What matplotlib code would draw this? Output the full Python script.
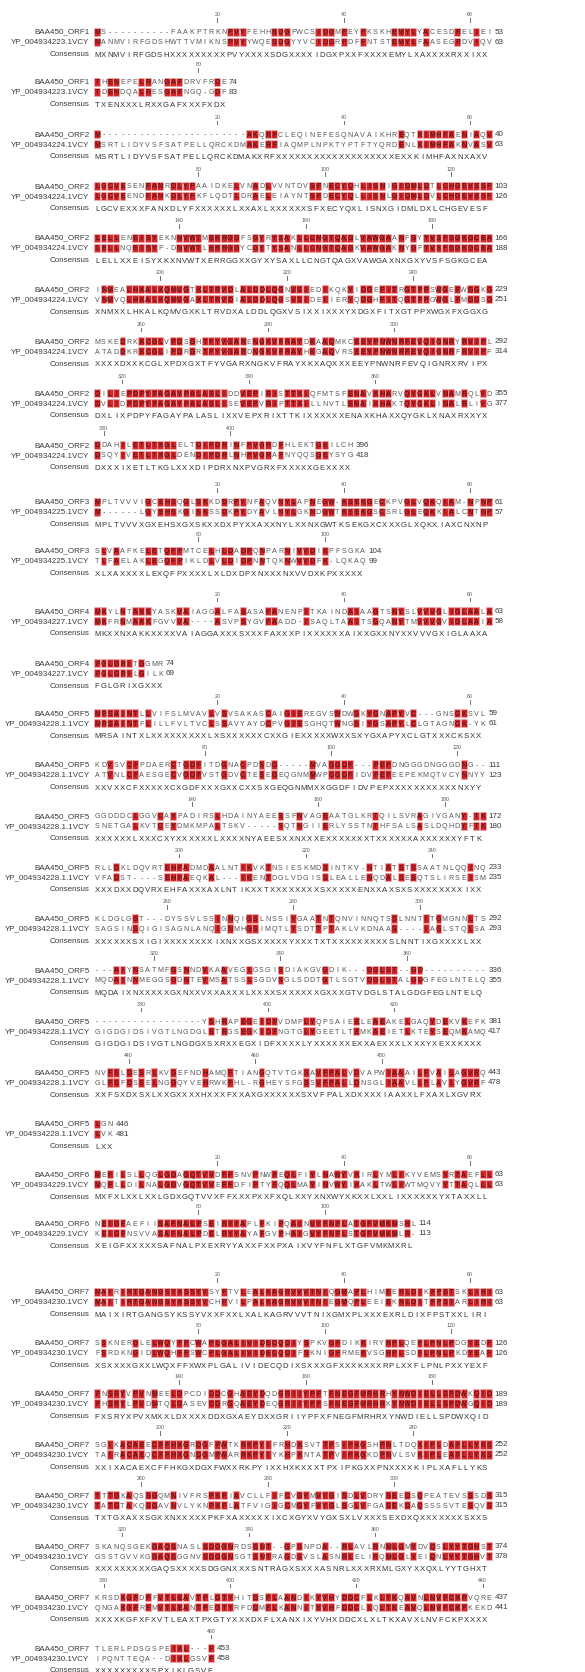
import matplotlib
matplotlib.use("Agg")
import matplotlib.pyplot as plt
from matplotlib.patches import Rectangle

plt.rcParams['font.family'] = ['Liberation Sans', 'DejaVu Sans']

# ---- alignment data, one string per ORF, rows as printed ----
orf_names = ["BAA450_ORF1", "BAA450_ORF2", "BAA450_ORF3", "BAA450_ORF4",
             "BAA450_ORF5", "BAA450_ORF6", "BAA450_ORF7"]
ref_names = ["YP_004934223.1VCY", "YP_004934224.1VCY", "YP_004934225.1VCY",
             "YP_004934227.1VCY", "YP_004934228.1.1VCY", "YP_004934229.1VCY",
             "YP_004934230.1VCY"]

orf1 = ("MS----------FAAKPTRKNPVYFEHHSDGFWCSIDGMPEYFKSKHEMYLYACESDRELIEI"
        "THENEPELRANGAFDRVFRDE")
ref1 = ("MANMVIRFGDSHWTTVMIKNSPVYYWQESDGYYVCIDGRPDFFNTSTEMYLFAASEGRDVIQV"
        "TDENDQALRESGAFNGQ-GDF")

orf2 = ("M" + "-" * 23 + "AKQRFCLEQINEFESQNAVAIKHREQTKIMHFAENIAQV"
        "LGCVESENFANRDLYFAAIDKELVNADLVVNTDVSFNECYQHLISNIGIDMLDTLCHGEVESF"
        "LELLENEISYEKNNVWTMERRGGFSGYRYSAKLLCNGTQAGLVAWGAANFGYYVSFSGKGCEA"
        "INMEALHKALKQMVGTKLTRVDLALDDLQGNVSIEDIKQKYIDGEFITRGTPPSWGEFWGGKG"
        "MSKEDRKKCGLVPDSGHTFYVGARENGKVFRAYDKAAQMKCEEYPNWNRFEVQIGNRYRVIPL"
        "DILIEPDPYFAGAYPALASLIDDVEPIRISTTKIQFMTSFENAVKHARVQYGKLVNAMRQLYD"
        "DDAHILETLTKGLELTDIPDRINFPVGRDFHLEKTGEILCH")
ref2 = ("MSRTLIDYVSFSATPELLQRCKDMAKERFIAQMPLNPKTYPTFTYQRDENLKIMHFAKNVASV"
        "LGCVEENDFANKDLYFKFLQDTLDRAELEIAYNTSFDECYQLLISNLGIDMLDVLCHGEVESF"
        "LELLNQEISYP-DNVWTLERRGGYCGYTYSANLLCNGTQAGKVAWGAKNYGFYVSFSGKGCEA"
        "VNMVQLHKALKQMVGAKLTRVDIALDDLQGSVSIDEIIERYQDGHFITQGTPPGWGLFMGGSG"
        "ATADDKRKCGLIPDRGRTFYVGARDNGKVFRAYHKGAQVRSEEYPNWNRFEVQIGNRFRVIPF"
        "DVLIDPDPYFAGAYPALASLISEVEPVRIPTTKILLNVTLENAIKHAKTQYGKLINALRLIYG"
        "DSQYIVETLTKGLDENDIPDRLNHPVGRAFNYQQSGEYSYG")

orf3 = ("MPLTVVVIGCEHSQGLSKKDDRPYNFAQVNYLAPNEGW-KSEKGECKPVGLVQKQIAM-NPNP"
        "SLVAAFKELETQFPMTCELHLDADPQNPARNIVVDIKPFSGKA")
ref3 = ("M------LGYEHSKGISKSSDKPYDYAVLNYLGKNDGWTKSEKGSCSRLGLEQKKIALCNTNP"
        "TLFAELAKLEGQFPIKLDLVLDIDPNNTQKNWVVDFK-LQKAQ")

orf4 = ("MKYLNTAKKYASKVAIAGGALFASASAFANENPITKAINDAIAAGTSNYSLVVVGLIGLAALA"
        "FGLGRITGGMR")
ref4 = ("MKFRNMAKKFGVVVA----ASVPSYGVFAADD-ISAQLTAAITSGQANYTMVVVGVIGLAAIA"
        "FGLGRILGILK")

orf5 = ("MRSAINTLLVIFSLMVAVLVSVSAKASCAIGIEREGVSWDWSKYGNAPYVC---GNSCKSVL"
        "KDVSVCFPDAERCTGDFITDGNACPDSDG-----MVAGGDF---PEPDNGGGDNGGGDNG--"
        "GGDDDCLGGVCAYPADIRSLHDAINYAEESSFNVAGEAATGLKRTQILSVRAGIVGANY-TK"
        "RLLDKLDQVRTEHFADMDAALNTIKVKTNSIESKMDSINTKV-NTIATSTSSAATNLQQINQ"
        "KLDGLGST---DYSSVLSSINNQIGSLNSSIYGAATNTQNVINNQTSSLNNTITGMGNNLTS"
        "---AIYNSATMFGSNNDVKAAVEGLGSGISDIAKGVGDIK---DGLST--GD----------"
        "-----------------YSHRAPEGEIDFVDMPLYQPSAIEELEAEAKELGAQYDEKVKEFK"
        "NVFSLDESRLKVGEFNDHAMQFTIANGQTVTGKSAVFPALVDVAPWIAAAILFVAILAGVRQ"
        "LGN")
ref5 = ("MRSAINTFLILLFVLTVCLSSAVYAYDCPVGIESGHQTWNGSIYGSAPYLCLGTAGNCK-YK"
        "ATVNLCFAESGECVGDFVSTGDVCTESEGEQGNMMWPGGDFIDVPEPEEPEKMQTVCYNNYY"
        "SNETGALKVTCEYDMKMPALTSKV-----SQTNGIIERLYSSTNTHFSALSASLDQHDYFTK"
        "VFADST----SEHFAEQKAL---IKENTDGLVDGISSLEALLENQDALSESQTSLIRSEISM"
        "SAGSINSQIGISAGNLANQIGNMHGSIMQTLYSDTTPTAKLVKDNAAS----IAGLSTQLSA"
        "MQDAINNMEGGSGDNTEVMSATSSLSGDVSGLSDDTGTLSGTVDGLSTALGDGFEGLNTELQ"
        "GIGDGIDSIVGTLNGDGLSTRGSEGKIDFNGTGLYGEETLTEMKAEIETLKTEYSEQMKAMQ"
        "GLFSFDSSELNGGQYVEHRWKFHL-RGHEYSFGSSVFPALLDNSGLIAAVLLFLAVLYGVRF"
        "LVK")

orf6 = ("MEFILSLLQGLGDAGQTVVDFFSNVPNWFEQLFIYLNAWYVKIRLYMLIKYVEMSYRTAEFLL"
        "NEIGFAEFIISAFNALPSEIRYYAFLFKIPQAINVYFNFLATGFVMKMSRL")
ref6 = ("MQFLLDILNALGDVGQTVVEFFDFIPTYFQQLMAYINVWYIKAKLTWLIWTMQVYYTTAQLLL"
        "KEIGFNSVVASAFNALPDELRYYAYAFGVPHAIGVYFNFLSTGFVMKMLR-")

orf7 = ("MAIRIRTGANGSYKSSYVSYFTVLEALKAGRVVVTNIQGMAPLHIMEERLDIKFPSTSKLIRI"
        "SSKNERGLELWQYFFCWAPLGALIVIDECQDIYSPKVGFDIKKIRYRPLQEFLPNLPDGYEDF"
        "FNSRYVPVNMEELDPCDIDDCGHAEYDQDGRIIYPFTFNEGFMRHRHYNWDIELLSPDWKQID"
        "SGIKACAEECFFHKGRDGFFWTKRKPYIFRHDKSVTTPSIPKGSHPNLTDQKIPLDAFLLYKS"
        "TTTGKAQSSGQMNIVFRSPKFIAVCLLFIFCVGYMVYGISDLVDRYSEEDSQPEATEVSSSDS"
        "SKANQSGEKGAQSNASLSDGGNRDSSNT--GPSNPDA--RLAVLRNMLGMYDVQSLYYTGHST"
        "KRSDKGFDFFVTLEAVTPLGTYHITDSFLAANDIKYVHYDDCFLKLTKQAVNLNVFCKPVQRE"
        "TLERLPDSGSPEIKL---F")
ref7 = ("MAITIRTGANGSYKSSYVCHFVILPALKAGRVVVTNIEGMQPLEEIEKRLDITFPSTARLIRI"
        "FSRDKNGIDLWQHFFSWCPLGALIVIDECQDIFSKNIGFRMEKVSGRPLSDFLPNLPKDYEAF"
        "FHSRYLPVDMTQLDASEVDDRGQAEYDEQGRIIYPFSFNEGFMRHRKYNWDIELLSPDWGQID"
        "TAIRACAEQCFFHKGNDGMFWARRKPYIYKHPKNTATPVIPKGKDPNVLSVKIPLEAFLLYKS"
        "TATGTAKQSGAVNVLYKNPKFLATFVIGIGCMGYFVYGLSGLVFGASEKDAQSSSSVTESQVS"
        "GSSTGVVKGGAQSGGNVSDGGNSGTSNTRAGDSVSLASNRLELIRQMLGLYEIQNLYYTGHVT"
        "QNGAKGFRFMVTLEANTPEGTYRFDDMFLKANNITYVHFDDCLLQLTKEAVQLNVFCKPKEKD"
        "IPQNTTEQA--DIKLGSVF")

orf_seqs = [orf1, orf2, orf3, orf4, orf5, orf6, orf7]
ref_seqs = [ref1, ref2, ref3, ref4, ref5, ref6, ref7]
cols_per_line = [63, 63, 63, 63, 62, 63, 63]

# ---- layout (pixels of the 585x1672 canvas) ----
block_top = [31.7, 134, 501.7, 611, 713.3, 1174.3, 1291.7]
row_step = [50, 51.8, 49, 52.3, 51.3, 49, 50.9]
X0, DX = 97.2, 6.32
RED = '#D0282C'
SEQ_FS, CONS_FS, NAME_FS, TICK_FS = 5.1, 5.6, 5.8, 3.8


def consensus(a, b):
    if a == b:
        return a
    if a == '-':
        return b
    if b == '-':
        return a
    return 'X'


fig = plt.figure(figsize=(5.85, 16.72), dpi=100)
ax = fig.add_axes([0, 0, 1, 1])
ax.set_xlim(0, 585)
ax.set_ylim(1672, 0)
ax.axis('off')

for k in range(len(orf_seqs)):
    s1, s2, w = orf_seqs[k], ref_seqs[k], cols_per_line[k]
    n1 = n2 = 0
    for r, start in enumerate(range(0, len(s1), w)):
        y = block_top[k] + r * row_step[k]
        c1, c2 = s1[start:start + w], s2[start:start + w]
        yc = y + 22.3
        for yy, lab in ((y, orf_names[k]), (y + 10, ref_names[k]), (yc, "Consensus")):
            ax.text(89.5, yy + 2.0, lab, ha='right', va='baseline',
                    fontsize=NAME_FS, color='#3a3a3a')
        for i, (a, b) in enumerate(zip(c1, c2)):
            x = X0 + i * DX
            pos = start + i + 1
            if pos % 20 == 0:
                ax.text(x, y - 15.2, str(pos), ha='center', va='baseline',
                        fontsize=TICK_FS, color='#555555')
                ax.plot([x, x], [y - 13.5, y - 9.8], color='#555555', lw=0.6)
            same = a == b and a != '-'
            for yy, ch in ((y, a), (y + 10, b)):
                if same:
                    ax.add_patch(Rectangle((x - DX / 2 + 0.2, yy - 4.1), DX - 0.4, 8.2,
                                           facecolor=RED, edgecolor='#F2B3B3', lw=0.4))
                ax.text(x, yy + 2.55, ch, ha='center', va='baseline', fontsize=SEQ_FS,
                        color='#4a0c0c' if same else '#555555')
            ax.text(X0 + i * 6.25, yc + 2.8, consensus(a, b), ha='center', va='baseline',
                    fontsize=CONS_FS, color='#333333')
        n1 += sum(ch != '-' for ch in c1)
        n2 += sum(ch != '-' for ch in c2)
        xe = X0 + (len(c1) - 1) * DX + 5.5
        ax.text(xe, y + 2.0, str(n1), ha='left', va='baseline', fontsize=NAME_FS, color='#3a3a3a')
        ax.text(xe, y + 12.0, str(n2), ha='left', va='baseline', fontsize=NAME_FS, color='#3a3a3a')

fig.savefig("out.png", dpi=100, facecolor='white')
